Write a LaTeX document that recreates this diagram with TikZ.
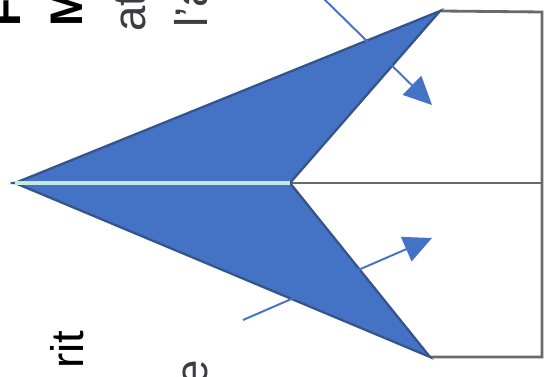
\documentclass[tikz,border=0pt]{standalone}
\usepackage{fontspec}
\setmainfont{Liberation Sans}
\usetikzlibrary{arrows.meta}
\definecolor{WingBlue}{RGB}{68,114,196}
\definecolor{WingEdge}{RGB}{52,84,140}
\definecolor{SpineMint}{RGB}{196,234,226}
\definecolor{FrameGray}{RGB}{105,105,105}
\definecolor{TextGray}{RGB}{60,60,66}

\begin{document}
\begin{tikzpicture}[x=0.02cm,y=0.02cm,>=Triangle,
    wing/.style={fill=WingBlue,draw=WingEdge,line width=1.3pt,line join=miter},
    pointer/.style={->,WingBlue,line width=1.1pt,shorten >=0pt,
      >={Triangle[length=16pt,width=15pt]}},
    txt/.style={rotate=90,inner sep=0pt,font=\fontsize{26}{30}\selectfont}]
      \useasboundingbox (0,0) rectangle (546,377);
      \clip (0,0) rectangle (546,377);
      % corners of the arrowhead shape
      \coordinate (tip) at (15,194);
      \coordinate (notch) at (290,194);
      \coordinate (upper) at (440,366);
      \coordinate (lower) at (430,20);
      \coordinate (mid) at (542,194);
      % frame on the right
      \draw[FrameGray,line width=1.6pt] (upper)--(542,365)--(542,20)--(lower);
      \draw[FrameGray,line width=1.6pt] (notch)--(mid);
      \fill[wing] (tip)--(upper)--(notch)--cycle;
      \fill[wing] (tip)--(notch)--(lower)--cycle;
      \draw[SpineMint,line width=2.2pt] (tip)--(notch);
      % pointers
      \coordinate (p1) at (322,380);
      \coordinate (q1) at (432,272);
      \coordinate (p2) at (243,57);
      \coordinate (q2) at (432,139);
      \draw[pointer] (p1)--(q1);
      \draw[pointer] (p2)--(q2);
      % rotated text
      \node[txt,anchor=base west,font=\fontsize{26}{30}\selectfont\bfseries] (fu) at (20,350) {Fu};
      \node[txt,anchor=base west,font=\fontsize{26}{30}\selectfont\bfseries] (ma) at (82,350) {M};
      \node[txt,anchor=base west,TextGray] (at) at (145,345) {at};
      \node[txt,anchor=base west,TextGray] (la) at (207,349) {l'a};
      \node[txt,anchor=base east] (rit) at (83,47) {rit};
      \node[txt,anchor=base east,TextGray] (ee) at (207,17) {e};
    \end{tikzpicture}
\end{document}
